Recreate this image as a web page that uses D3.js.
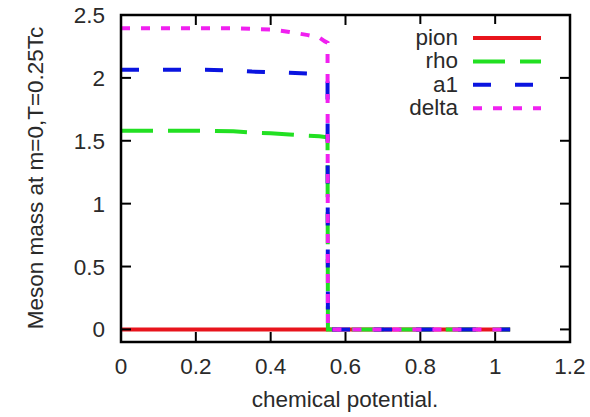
<!DOCTYPE html>
<html><head><meta charset="utf-8">
<script src="https://cdn.jsdelivr.net/npm/d3@7"></script>
<style>body{margin:0;background:#fff}svg{display:block}text{font-family:"Liberation Sans",Arial,sans-serif;fill:#2a2a2a}</style>
</head><body><svg id="c" width="590" height="417"></svg>
<script>
const mu = [0, 0.1, 0.2, 0.3, 0.35, 0.4, 0.45, 0.5, 0.53, 0.545, 0.552, 0.553, 0.7, 0.85, 1.04];
const pion = [0,0,0,0,0,0,0,0,0,0,0,0,0,0,0];
const rho = [1.58,1.58,1.58,1.575,1.565,1.56,1.55,1.54,1.535,1.53,1.53,0,0,0,0];
const a1 = [2.065,2.065,2.065,2.06,2.05,2.045,2.04,2.035,2.03,1.99,1.98,0,0,0,0];
const delta = [2.395,2.395,2.395,2.395,2.39,2.385,2.365,2.34,2.32,2.29,2.28,0,0,0,0];
const seriesNames = ["pion","rho","a1","delta"];
const xTicks = [0,0.2,0.4,0.6,0.8,1,1.2];
const yTicks = [0,0.5,1,1.5,2,2.5];

const styles = {
  pion:{color:"#e8141c",dash:null},
  rho:{color:"#22e022",dash:"32,15"},
  a1:{color:"#0a14e0",dash:"18,24"},
  delta:{color:"#f020f0",dash:"9,11"}
};
const vals = {pion, rho, a1, delta};

const svg = d3.select("#c");
const L=121,R=570,T=15,B=342;
const FS = 22.5;
const x = d3.scaleLinear().domain([0,1.2]).range([L,R]);
const y = d3.scaleLinear().domain([-0.1,2.5]).range([B,T]);

const line = d3.line().x(d=>x(d[0])).y(d=>y(d[1]));
seriesNames.forEach(n=>{
  const pts = mu.map((m,i)=>[m, vals[n][i]]);
  svg.append("path").attr("d",line(pts)).attr("fill","none")
    .attr("stroke",styles[n].color).attr("stroke-width",4)
    .attr("stroke-dasharray",styles[n].dash);
});

// axes (gnuplot-style, inward mirrored ticks)
const tl = 10;
const fmt = d=>String(d);
const gx = svg.append("g");
xTicks.forEach(t=>{
  gx.append("line").attr("x1",x(t)).attr("x2",x(t)).attr("y1",B).attr("y2",B-tl).attr("stroke","#000").attr("stroke-width",2);
  gx.append("line").attr("x1",x(t)).attr("x2",x(t)).attr("y1",T).attr("y2",T+tl).attr("stroke","#000").attr("stroke-width",2);
  gx.append("text").attr("x",x(t)).attr("y",374).attr("text-anchor","middle").attr("font-size",FS).text(fmt(t));
});
yTicks.forEach(t=>{
  gx.append("line").attr("x1",L).attr("x2",L+tl).attr("y1",y(t)).attr("y2",y(t)).attr("stroke","#000").attr("stroke-width",2);
  gx.append("line").attr("x1",R).attr("x2",R-tl).attr("y1",y(t)).attr("y2",y(t)).attr("stroke","#000").attr("stroke-width",2);
  gx.append("text").attr("x",105).attr("y",y(t)+8).attr("text-anchor","end").attr("font-size",FS).text(fmt(t));
});

// legend (white box behind)
const lg = svg.append("g");
lg.append("rect").attr("x",395).attr("y",24).attr("width",155).attr("height",96).attr("fill","#fff");
seriesNames.forEach((n,i)=>{
  const yy = 38 + i*23.4;
  lg.append("text").attr("x",458).attr("y",yy+7).attr("text-anchor","end").attr("font-size",FS).text(n);
  lg.append("line").attr("x1",473).attr("x2",541).attr("y1",yy).attr("y2",yy)
    .attr("stroke",styles[n].color).attr("stroke-width",4).attr("stroke-dasharray",styles[n].dash);
});

svg.append("rect").attr("x",L).attr("y",T).attr("width",R-L).attr("height",B-T)
  .attr("fill","none").attr("stroke","#000").attr("stroke-width",2.5);

svg.append("text").attr("x",345).attr("y",407).attr("text-anchor","middle").attr("font-size",FS).text("chemical potential.");
svg.append("text").attr("transform","translate(43,178) rotate(-90)").attr("text-anchor","middle").attr("font-size",FS).text("Meson mass at m=0,T=0.25Tc");
</script></body></html>
